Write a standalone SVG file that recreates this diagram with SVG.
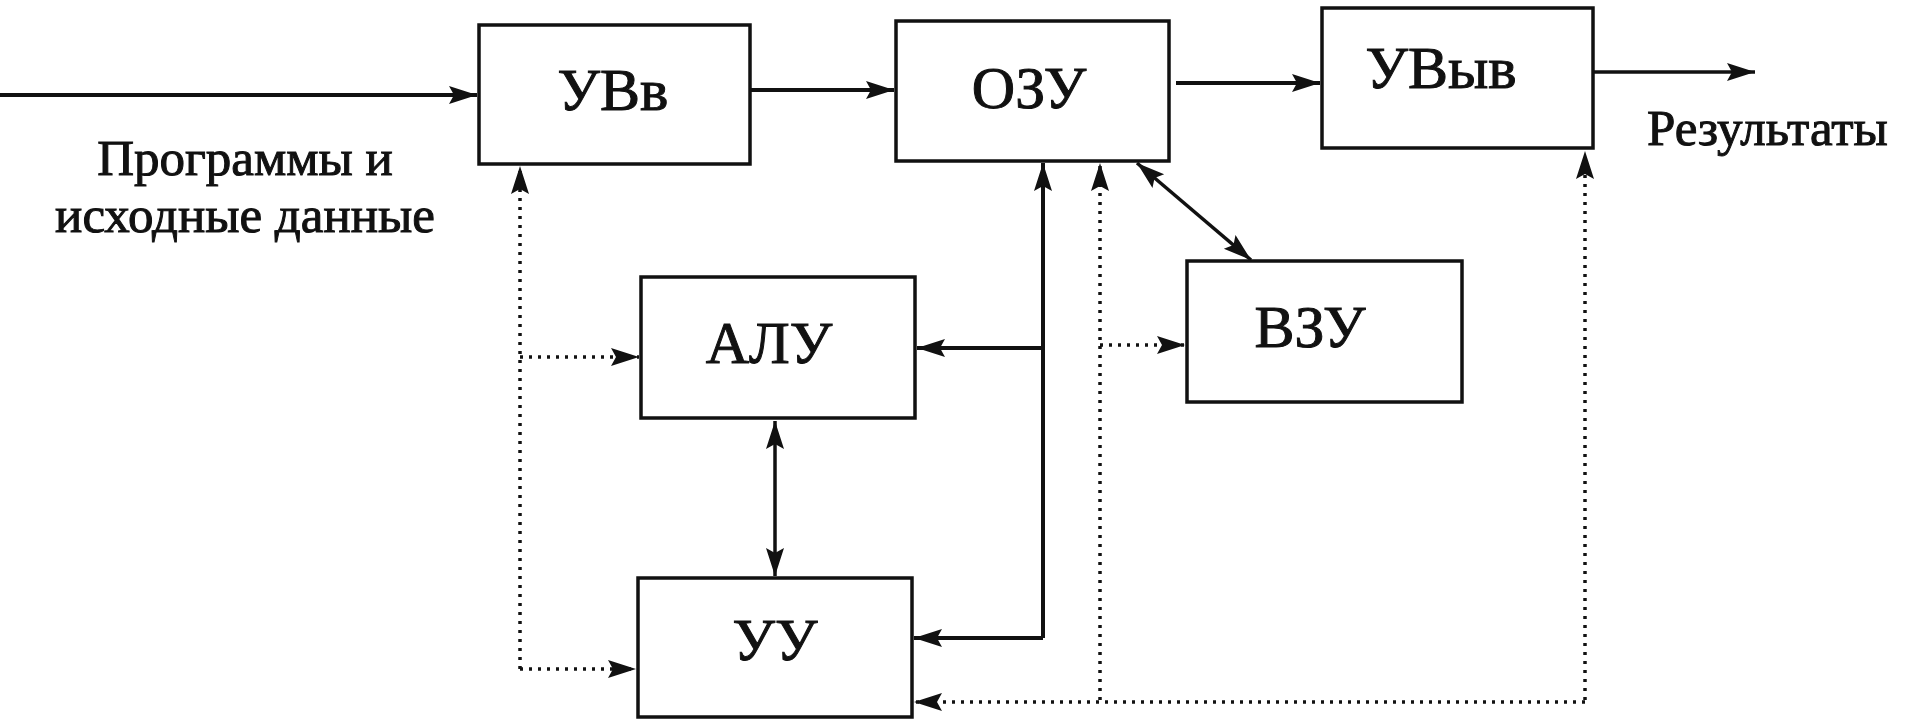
<svg xmlns="http://www.w3.org/2000/svg" width="1915" height="721" viewBox="0 0 1915 721">
<style>
.box{fill:#fff;stroke:#111;stroke-width:3.5}
.lbl{font-family:"Liberation Serif","DejaVu Serif",serif;font-size:60px;fill:#111;stroke:#111;stroke-width:1;text-anchor:middle}
.ann{font-family:"Liberation Serif","DejaVu Serif",serif;font-size:51px;fill:#111;stroke:#111;stroke-width:1}
.solid{fill:none;stroke:#111;stroke-width:4}
.thin{fill:none;stroke:#111;stroke-width:3.5}
.dot{fill:none;stroke:#111;stroke-width:3.5;stroke-dasharray:3 6}
</style>
<defs>
<marker id="ah" markerUnits="userSpaceOnUse" markerWidth="30" markerHeight="20" refX="28" refY="9" orient="auto-start-reverse" viewBox="0 0 30 20">
<path d="M0,0 L28,9 L0,18 L5,9 z" fill="#111"/>
</marker>
</defs>
<rect width="1915" height="721" fill="#fff"/>
<g id="connectors">
<path class="solid" d="M0,95 H477" marker-end="url(#ah)"/>
<path class="solid" d="M750,90 H894" marker-end="url(#ah)"/>
<path class="solid" d="M1176,83 H1320" marker-end="url(#ah)"/>
<path class="thin" d="M1593,72 H1755" marker-end="url(#ah)"/>
<path class="solid" d="M1043,638 V163" marker-end="url(#ah)"/>
<path class="solid" d="M1043,348 H917" marker-end="url(#ah)"/>
<path class="solid" d="M1043,638 H914" marker-end="url(#ah)"/>
<path class="thin" d="M1137,163 L1251,260" marker-start="url(#ah)" marker-end="url(#ah)"/>
<path class="thin" d="M775,421 V576" marker-start="url(#ah)" marker-end="url(#ah)"/>
<path class="dot" d="M520,669 V166" marker-end="url(#ah)"/>
<path class="dot" d="M520,357 H639" marker-end="url(#ah)"/>
<path class="dot" d="M520,669 H636" marker-end="url(#ah)"/>
<path class="dot" d="M1100,700 V163" marker-end="url(#ah)"/>
<path class="dot" d="M1100,345 H1185" marker-end="url(#ah)"/>
<path class="dot" d="M1585,700 V151" marker-end="url(#ah)"/>
<path class="dot" d="M1585,702 H914" marker-end="url(#ah)"/>
</g>
<g id="uvv"><rect class="box" x="479" y="25" width="271" height="139"/><text class="lbl" x="613" y="110">УВв</text></g>
<g id="ozu"><rect class="box" x="896" y="21" width="273" height="140"/><text class="lbl" x="1029" y="108">ОЗУ</text></g>
<g id="uvyv"><rect class="box" x="1322" y="8" width="271" height="140"/><text class="lbl" x="1441" y="88">УВыв</text></g>
<g id="alu"><rect class="box" x="641" y="277" width="274" height="141"/><text class="lbl" x="769" y="363">АЛУ</text></g>
<g id="vzu"><rect class="box" x="1187" y="261" width="275" height="141"/><text class="lbl" x="1310" y="347">ВЗУ</text></g>
<g id="uu"><rect class="box" x="638" y="578" width="274" height="139"/><text class="lbl" x="775" y="660">УУ</text></g>
<g id="input-label"><text class="ann" x="245" y="175" text-anchor="middle">Программы и</text><text class="ann" x="245" y="232" text-anchor="middle">исходные данные</text></g>
<g id="output-label"><text class="ann" x="1647" y="145">Результаты</text></g>
</svg>
